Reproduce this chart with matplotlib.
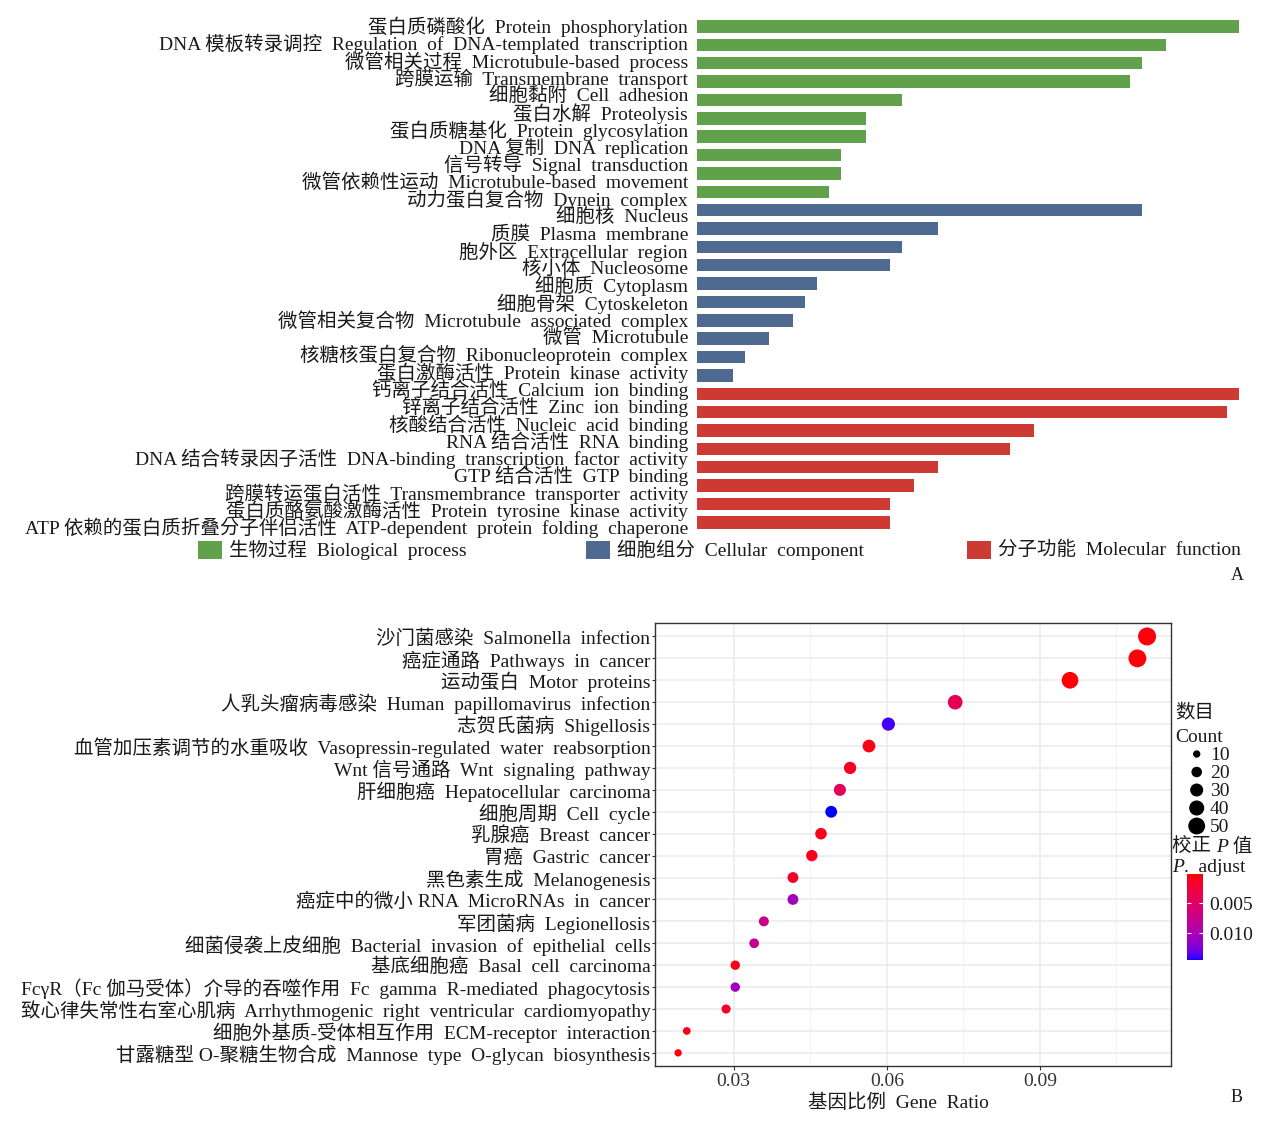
import numpy as np
import matplotlib
matplotlib.use("Agg")
import matplotlib.pyplot as plt
from matplotlib.colors import ListedColormap, Normalize
from matplotlib.patches import Rectangle
import matplotlib.cm as cm

plt.rcParams['font.family'] = ['Liberation Serif', 'Noto Sans CJK SC']

# ---------------- Panel A data ----------------
go_labels = [
    "蛋白质磷酸化  Protein  phosphorylation",
    "DNA 模板转录调控  Regulation  of  DNA-templated  transcription",
    "微管相关过程  Microtubule-based  process",
    "跨膜运输  Transmembrane  transport",
    "细胞黏附  Cell  adhesion",
    "蛋白水解  Proteolysis",
    "蛋白质糖基化  Protein  glycosylation",
    "DNA 复制  DNA  replication",
    "信号转导  Signal  transduction",
    "微管依赖性运动  Microtubule-based  movement",
    "动力蛋白复合物  Dynein  complex",
    "细胞核  Nucleus",
    "质膜  Plasma  membrane",
    "胞外区  Extracellular  region",
    "核小体  Nucleosome",
    "细胞质  Cytoplasm",
    "细胞骨架  Cytoskeleton",
    "微管相关复合物  Microtubule  associated  complex",
    "微管  Microtubule",
    "核糖核蛋白复合物  Ribonucleoprotein  complex",
    "蛋白激酶活性  Protein  kinase  activity",
    "钙离子结合活性  Calcium  ion  binding",
    "锌离子结合活性  Zinc  ion  binding",
    "核酸结合活性  Nucleic  acid  binding",
    "RNA 结合活性  RNA  binding",
    "DNA 结合转录因子活性  DNA-binding  transcription  factor  activity",
    "GTP 结合活性  GTP  binding",
    "跨膜转运蛋白活性  Transmembrance  transporter  activity",
    "蛋白质酪氨酸激酶活性  Protein  tyrosine  kinase  activity",
    "ATP 依赖的蛋白质折叠分子伴侣活性  ATP-dependent  protein  folding  chaperone",
]
bp_counts = [45, 39, 37, 36, 17, 14, 14, 12, 12, 11]
cc_counts = [37, 20, 17, 16, 10, 9, 8, 6, 4, 3]
mf_counts = [45, 44, 28, 26, 20, 18, 16, 16]
group_names = ["生物过程  Biological  process", "细胞组分  Cellular  component",
               "分子功能  Molecular  function"]
group_colors = ["#62A14C", "#4F6A90", "#CC3A33"]

# ---------------- Panel B data ----------------
kegg_labels = [
    "沙门菌感染  Salmonella  infection",
    "癌症通路  Pathways  in  cancer",
    "运动蛋白  Motor  proteins",
    "人乳头瘤病毒感染  Human  papillomavirus  infection",
    "志贺氏菌病  Shigellosis",
    "血管加压素调节的水重吸收  Vasopressin-regulated  water  reabsorption",
    "Wnt 信号通路  Wnt  signaling  pathway",
    "肝细胞癌  Hepatocellular  carcinoma",
    "细胞周期  Cell  cycle",
    "乳腺癌  Breast  cancer",
    "胃癌  Gastric  cancer",
    "黑色素生成  Melanogenesis",
    "癌症中的微小 RNA  MicroRNAs  in  cancer",
    "军团菌病  Legionellosis",
    "细菌侵袭上皮细胞  Bacterial  invasion  of  epithelial  cells",
    "基底细胞癌  Basal  cell  carcinoma",
    "FcγR（Fc 伽马受体）介导的吞噬作用  Fc  gamma  R-mediated  phagocytosis",
    "致心律失常性右室心肌病  Arrhythmogenic  right  ventricular  cardiomyopathy",
    "细胞外基质-受体相互作用  ECM-receptor  interaction",
    "甘露糖型 O-聚糖生物合成  Mannose  type  O-glycan  biosynthesis",
]
gene_ratio = [0.1110, 0.1091, 0.0959, 0.0734, 0.0603, 0.0565, 0.0528, 0.0508,
              0.0491, 0.0471, 0.0453, 0.0416, 0.0416, 0.0359, 0.0340, 0.0303,
              0.0303, 0.0285, 0.0208, 0.0191]
gene_count = [57, 56, 49, 38, 31, 29, 27, 26, 25, 24, 23, 21, 21, 18, 17, 16,
              16, 15, 11, 10]
p_adjust = [0.0005, 0.0005, 0.0004, 0.0040, 0.0139, 0.0008, 0.0015, 0.0045,
            0.0145, 0.0010, 0.0010, 0.0015, 0.0105, 0.0072, 0.0078, 0.0008,
            0.0105, 0.0015, 0.0008, 0.0002]
size_breaks = [10, 20, 30, 40, 50]
cbar_ticks = [0.005, 0.010]
cbar_ticklabels = ["0.005", "0.010"]
x_ticks = [0.03, 0.06, 0.09]
x_ticklabels = ["0.03", "0.06", "0.09"]

# ---------------- helpers ----------------
W, H = 1269, 1126
fig = plt.figure(figsize=(W / 100, H / 100), dpi=100, facecolor="white")


def axes_px(l, t, r, b, **kw):
    return fig.add_axes([l / W, 1 - b / H, (r - l) / W, (b - t) / H], **kw)


def ftext(x, y, s, **kw):
    return fig.text(x / W, 1 - y / H, s, **kw)


# Lab-interpolated red -> blue gradient (as ggplot's scale_colour_gradient)
def _srgb_to_lab(rgb):
    rgb = np.asarray(rgb, float)
    lin = np.where(rgb <= 0.04045, rgb / 12.92, ((rgb + 0.055) / 1.055) ** 2.4)
    M = np.array([[0.4124564, 0.3575761, 0.1804375],
                  [0.2126729, 0.7151522, 0.0721750],
                  [0.0193339, 0.1191920, 0.9503041]])
    xyz = M @ lin
    wp = np.array([0.95047, 1.0, 1.08883])
    t = xyz / wp
    f = np.where(t > (6 / 29) ** 3, np.cbrt(t), t / (3 * (6 / 29) ** 2) + 4 / 29)
    return np.array([116 * f[1] - 16, 500 * (f[0] - f[1]), 200 * (f[1] - f[2])])


def _lab_to_srgb(lab):
    L, a, b = lab
    fy = (L + 16) / 116
    fx = fy + a / 500
    fz = fy - b / 200
    def finv(f):
        return f ** 3 if f > 6 / 29 else 3 * (6 / 29) ** 2 * (f - 4 / 29)
    wp = np.array([0.95047, 1.0, 1.08883])
    xyz = np.array([finv(fx), finv(fy), finv(fz)]) * wp
    Minv = np.array([[3.2404542, -1.5371385, -0.4985314],
                     [-0.9692660, 1.8760108, 0.0415560],
                     [0.0556434, -0.2040259, 1.0572252]])
    lin = np.clip(Minv @ xyz, 0, 1)
    srgb = np.where(lin <= 0.0031308, lin * 12.92, 1.055 * lin ** (1 / 2.4) - 0.055)
    return np.clip(srgb, 0, 1)


lab_lo = _srgb_to_lab([1, 0, 0])
lab_hi = _srgb_to_lab([0, 0, 1])
cmap = ListedColormap([_lab_to_srgb(lab_lo + t * (lab_hi - lab_lo))
                       for t in np.linspace(0, 1, 256)])

FS = 14
LFS = 14
TXT = "#1a1a1a"

# ---------------- Panel A ----------------
counts_all = bp_counts + cc_counts + mf_counts
colors_all = ([group_colors[0]] * len(bp_counts) + [group_colors[1]] * len(cc_counts)
              + [group_colors[2]] * len(mf_counts))
nb = len(counts_all)
ax1 = axes_px(697, 15.5, 1238.7, 533.3)
ax1.barh(np.arange(nb), counts_all, height=0.68, color=colors_all, linewidth=0)
ax1.set_ylim(nb - 1 + 0.6, -0.6)
ax1.set_xlim(0, max(counts_all))
for s in ax1.spines.values():
    s.set_visible(False)
ax1.set_xticks([])
lab_pos = np.linspace(-0.08, 27.2, len(go_labels))
ax1.set_yticks(lab_pos)
ax1.set_yticklabels(go_labels, fontsize=FS, color=TXT)
ax1.tick_params(axis="y", length=0, pad=6.5)

# legend of panel A
leg_x = [198, 586, 967]
for x0, name, col in zip(leg_x, group_names, group_colors):
    fig.patches.append(Rectangle((x0 / W, 1 - 559 / H), 24 / W, 18 / H,
                                 transform=fig.transFigure, facecolor=col,
                                 edgecolor="none"))
    ftext(x0 + 31, 550, name, fontsize=FS, va="center", ha="left", color=TXT)
ftext(1237, 576, "A", fontsize=13, ha="center", va="center", color=TXT)

# ---------------- Panel B ----------------
nk = len(kegg_labels)
ax2 = axes_px(655, 623.3, 1170.5, 1066)
smin, smax = 28.0, 168.0
cmin, cmax = min(gene_count), max(gene_count)


def size_of(c):
    c = np.asarray(c, float)
    return smin + (c - cmin) / (cmax - cmin) * (smax - smin)


norm = Normalize(vmin=min(p_adjust), vmax=max(p_adjust))
ax2.scatter(gene_ratio, np.arange(nk), s=size_of(gene_count), c=p_adjust,
            cmap=cmap, norm=norm, edgecolors="none", zorder=3)
ax2.set_ylim(nk - 1 + 0.6, -0.6)
ax2.set_xlim(0.01457, 0.11559)
ax2.set_yticks(np.arange(nk))
ax2.set_yticklabels(kegg_labels, fontsize=FS, color=TXT)
ax2.set_xticks(x_ticks)
ax2.set_xticklabels(x_ticklabels, fontsize=FS, color="#333333")
ax2.set_xticks([0.045, 0.075, 0.105], minor=True)
ax2.grid(which="major", color="#EBEBEB", lw=1.1)
ax2.grid(which="minor", axis="x", color="#F2F2F2", lw=0.7)
ax2.set_axisbelow(True)
for s in ax2.spines.values():
    s.set_color("#333333")
    s.set_linewidth(1.0)
ax2.tick_params(axis="y", which="major", length=2.5, width=0.8, color="#333333", pad=0.8)
ax2.tick_params(axis="x", which="major", length=3, width=0.8, color="#333333", pad=2)
ax2.tick_params(axis="x", which="minor", length=0)
ftext(898, 1103, "基因比例  Gene  Ratio", fontsize=FS, color=TXT,
      ha="center", va="center")
ftext(1237, 1098, "B", fontsize=13, ha="center", va="center", color=TXT)

# size legend
ftext(1175, 713, "数目", fontsize=LFS, ha="left", va="center", color=TXT)
ftext(1175, 737, "Count", fontsize=LFS, ha="left", va="center", color=TXT)
axl = axes_px(1186, 745, 1240, 835)
axl.set_xlim(0, 1)
axl.set_ylim(len(size_breaks) - 0.5, -0.5)
axl.scatter([0.198] * len(size_breaks), np.arange(len(size_breaks)),
            s=size_of(size_breaks), color="black", edgecolors="none")
for i, b in enumerate(size_breaks):
    axl.text(0.44, i + 0.1, str(b), fontsize=LFS, ha="left", va="center", color=TXT)
axl.axis("off")

# colour legend
t1 = ftext(1172, 847, "校正 ", fontsize=LFS, ha="left", va="center", color=TXT)
t2 = plt.annotate("P", xy=(1, 0), xycoords=t1, va="bottom", ha="left",
                  fontsize=LFS, style="italic", color=TXT)
plt.annotate(" 值", xy=(1, 0), xycoords=t2, va="bottom", ha="left",
             fontsize=LFS, color=TXT)
t4 = ftext(1172, 867, "P", fontsize=LFS, ha="left", va="center", style="italic", color=TXT)
plt.annotate(".  adjust", xy=(1, 0), xycoords=t4, va="bottom", ha="left",
             fontsize=LFS, color=TXT)

cax = axes_px(1187, 874.3, 1203.3, 960)
sm = cm.ScalarMappable(norm=norm, cmap=cmap)
cb = fig.colorbar(sm, cax=cax)
cb.outline.set_visible(False)
cax.invert_yaxis()
cb.set_ticks(cbar_ticks)
cb.set_ticklabels(cbar_ticklabels)
cax.minorticks_off()
cax.tick_params(axis="y", which="major", direction="in", length=3, width=0.8,
                color="white", left=True, right=True, labelsize=LFS, pad=4,
                labelcolor=TXT)

fig.savefig("out.png", dpi=100, facecolor="white")
